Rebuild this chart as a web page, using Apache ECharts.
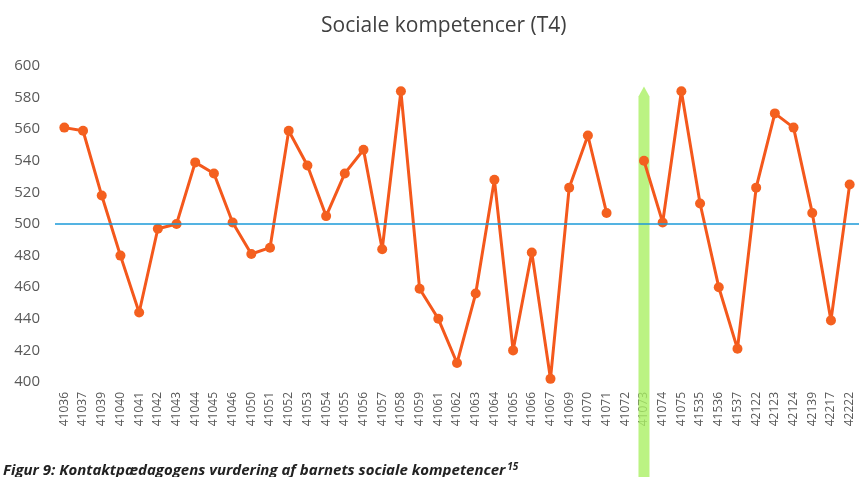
<!DOCTYPE html>
<html>
<head>
<meta charset="utf-8">
<script src="https://cdn.jsdelivr.net/npm/echarts@6/dist/echarts.min.js"></script>
<style>
  html, body { margin: 0; padding: 0; background: #fff; }
  #chart { width: 859px; height: 477px; }
</style>
</head>
<body>
<div id="chart"></div>
<script>
const categories = ['41036', '41037', '41039', '41040', '41041', '41042', '41043', '41044', '41045', '41046',
  '41050', '41051', '41052', '41053', '41054', '41055', '41056', '41057', '41058', '41059',
  '41061', '41062', '41063', '41064', '41065', '41066', '41067', '41069', '41070', '41071',
  '41072', '41073', '41074', '41075', '41535', '41536', '41537', '42122', '42123', '42124',
  '42139', '42217', '42222'];
const scores = [561, 559, 518, 480, 444, 497, 500, 539, 532, 501,
  481, 485, 559, 537, 505, 532, 547, 484, 584, 459,
  440, 412, 456, 528, 420, 482, 402, 523, 556, 507,
  null, 540, 501, 584, 513, 460, 421, 523, 570, 561,
  507, 439, 525];
const yTicks = [400, 420, 440, 460, 480, 500, 520, 540, 560, 580, 600];
const referenceValue = 500;
// green marker drawn over the scan (arrow tip value)
const highlightCategory = '41073';
const highlightTop = 587;

const chart = echarts.init(document.getElementById('chart'));

const option = {
  backgroundColor: '#fff',
  animation: false,
  title: [{
    text: 'Sociale kompetencer (T4)',
    left: 316,
    top: 11,
    textStyle: { fontFamily: 'Open Sans', fontSize: 21, fontWeight: 'normal', color: '#404040' }
  }, {
    text: '{a|Figur 9: Kontaktpædagogens vurdering af barnets sociale kompetencer}{s|15}',
    left: -2,
    top: 457,
    textStyle: {
      rich: {
        a: { fontFamily: 'Open Sans', fontSize: 15, fontWeight: 'bold', fontStyle: 'italic', color: '#222' },
        s: { fontFamily: 'Open Sans', fontSize: 10, fontWeight: 'bold', fontStyle: 'italic', color: '#222', verticalAlign: 'top', padding: [0, 0, 8, 2] }
      }
    }
  }],
  grid: { left: 55, right: 0, top: 66, bottom: 95 },
  xAxis: {
    type: 'category',
    data: categories,
    boundaryGap: true,
    axisLine: { show: false },
    axisTick: { show: false },
    axisLabel: { interval: 0, rotate: 90, margin: 10, fontFamily: 'Open Sans', fontSize: 12, color: '#595959' }
  },
  yAxis: {
    type: 'value',
    min: yTicks[0],
    max: yTicks[yTicks.length - 1],
    interval: 20,
    axisLine: { show: false },
    axisTick: { show: false },
    splitLine: { show: false },
    axisLabel: { margin: 15, fontFamily: 'Open Sans', fontSize: 15, color: '#595959' }
  },
  series: [{
    type: 'custom',
    z: 1,
    silent: true,
    data: [[highlightCategory, highlightTop]],
    encode: { x: 0, y: 1 },
    renderItem: (params, api) => {
      const p = api.coord([api.value(0), api.value(1)]);
      const w = 11;
      const bottom = api.getHeight();
      return {
        type: 'polygon',
        shape: {
          points: [[p[0], p[1]], [p[0] + w / 2, p[1] + 10], [p[0] + w / 2, bottom], [p[0] - w / 2, bottom], [p[0] - w / 2, p[1] + 10]]
        },
        style: { fill: 'rgba(170, 240, 100, 0.8)' }
      };
    }
  }, {
    type: 'line',
    z: 3,
    data: scores,
    connectNulls: false,
    symbol: 'circle',
    symbolSize: 10,
    lineStyle: { color: '#f4581c', width: 3 },
    itemStyle: { color: '#f4601f' },
    markLine: {
      silent: true,
      symbol: 'none',
      label: { show: false },
      lineStyle: { color: '#1b9ad8', width: 1.6, type: 'solid' },
      data: [{ yAxis: referenceValue }]
    }
  }]
};

chart.setOption(option);
</script>
</body>
</html>
